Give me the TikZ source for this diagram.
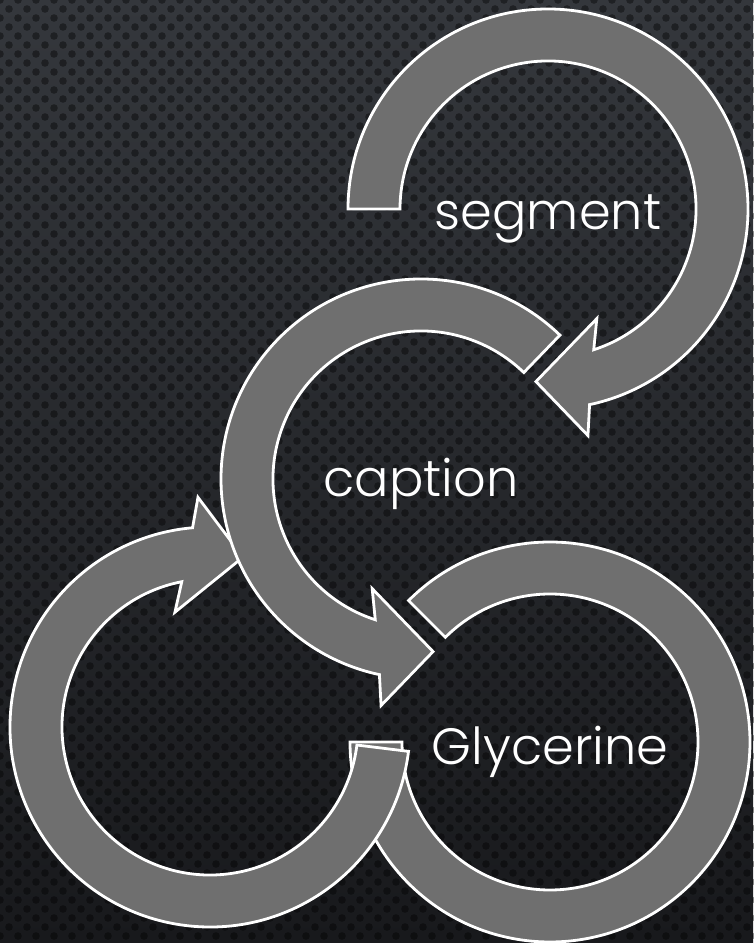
\documentclass[tikz,border=0pt]{standalone}
\usepackage{fontspec}
\setmainfont{Poppins Light}
\definecolor{bgtop}{RGB}{52,55,60}
\definecolor{bgbot}{RGB}{24,25,28}
\definecolor{bandgray}{RGB}{111,111,111}
\tikzset{
  band/.style={fill=bandgray, draw=white, line width=2.8pt, line join=miter},
  lbl/.style={text=white, inner sep=0pt, anchor=base, font=\fontsize{51}{58}\selectfont}
}

\begin{document}
\begin{tikzpicture}[x=1pt,y=1pt]
    \useasboundingbox (0,0) rectangle (753,943);
    \shade[top color=bgtop, bottom color=bgbot] (0,0) rectangle (753,943);

    % perforated backdrop
    \foreach \r in {0,...,104} {
      \pgfmathsetmacro\off{mod(\r,2)*9}
      \foreach \c in {0,...,42} {
        \fill[black, fill opacity=0.4] (\c*18+\off, 943-\r*9) circle[radius=3.8];
      }
    }

    \coordinate (seg) at (548,734);
    \coordinate (cap) at (421,464);
    \coordinate (gly) at (550,201);
    \coordinate (lft) at (210,216);

    % open ring round Glycerine
    \draw[band, shift={(gly)}] (135:200) arc[start angle=135, end angle=-180, radius=200]
      -- (180:148) arc[start angle=-180, end angle=135, radius=148] -- cycle;

    % circular arrows: centre/tail/tip/turn
    \foreach \ctr/\tail/\tip/\s in {lft/-7/-281/1, cap/46/274/-1, seg/180/-94/1} {
      \draw[band, shift={(\ctr)}] (\tail:200)
        arc[start angle=\tail, end angle={\tip+16*\s}, radius=200]
        -- ({\tip+14*\s}:230) -- (\tip:173) -- ({\tip+28*\s}:120) -- ({\tip+22*\s}:148)
        arc[start angle={\tip+22*\s}, end angle=\tail, radius=148] -- cycle;
    }

    \node[lbl] (segtxt) at (548,713) {segment};
    \node[lbl] (captxt) at (421,446) {caption};
    \node[lbl] (glytxt) at (550,178) {Glycerine};

  \end{tikzpicture}
\end{document}
